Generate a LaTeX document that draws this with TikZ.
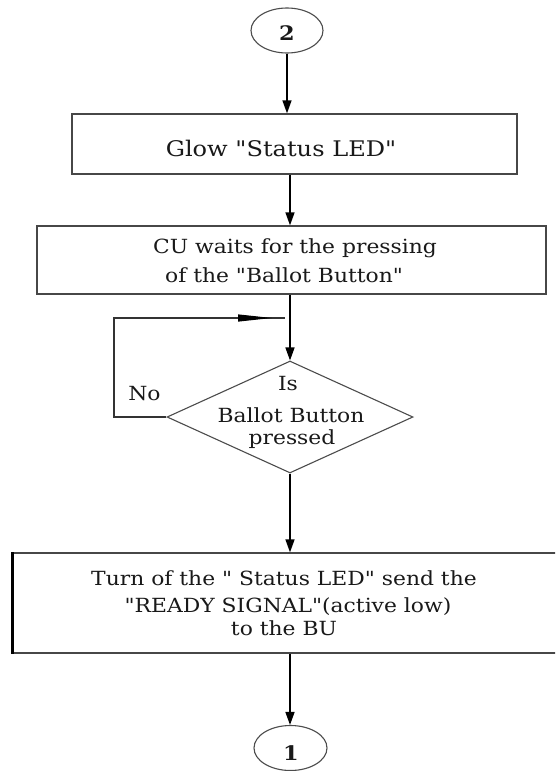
\documentclass[tikz,border=0pt]{standalone}
\usepackage{fontspec}
\setmainfont{DejaVu Serif}[FakeStretch=1.12,Ligatures=TeXOff]
\usetikzlibrary{shapes.geometric,arrows.meta}
\tikzset{
  boxline/.style={draw=black!72,line width=1.3pt},
  procbox/.style={boxline,rectangle,inner sep=0pt},
  ovalnode/.style={draw=black!70,line width=1.1pt,ellipse,inner sep=0pt},
  decbox/.style={draw=black!70,line width=1.1pt,diamond,inner sep=0pt,aspect=2.2},
  flow/.style={line width=1.5pt,-{Triangle[length=13pt,width=9pt]}},
  txt/.style={anchor=base,inner sep=0pt,text=black!90},
}
\newcommand{\fsA}{\fontsize{21.5}{26}\selectfont}
\newcommand{\fsB}{\fontsize{19.5}{24}\selectfont}
\newcommand{\fsC}{\fontsize{19.5}{24}\selectfont}
\begin{document}
\begin{tikzpicture}[x=1pt,y=-1pt]
\clip (0,0) rectangle (555,771);
\fill[white] (0,0) rectangle (555,771);
% terminals
\node[ovalnode,minimum width=72pt,minimum height=45pt] (c2) at (287,30.5) {};
\node[txt] (c2t) at (287,40) {\fontsize{20}{24}\selectfont\bfseries 2};
\node[ovalnode,minimum width=73pt,minimum height=45pt] (c1) at (290.5,748) {};
\node[txt] (c1t) at (291,760) {\fontsize{20}{24}\selectfont\bfseries 1};
% boxes
\node[procbox,minimum width=445pt,minimum height=60pt] (b1) at (294.5,144) {};
\node[txt] (b1t) at (281,156) {\fsA Glow "Status LED"};
\node[procbox,minimum width=509pt,minimum height=68pt] (b2) at (291.5,260) {};
\node[txt] (b2t1) at (295,253) {\fsB CU waits for the pressing};
\node[txt] (b2t2) at (284,282) {\fsB of the "Ballot Button"};
\node[decbox,minimum width=246pt,minimum height=112pt] (d) at (290,417) {};
\node[txt] (dt1) at (288,390) {\fsB Is};
\node[txt] (dt2) at (291,422) {\fsB Ballot Button};
\node[txt] (dt3) at (292,444) {\fsB pressed};
\node[txt] (no) at (144.5,400) {\fsB No};
\node[procbox,minimum width=557pt,minimum height=100pt] (b3) at (291.5,603) {};
\draw[black,line width=3pt] (b3.north west) -- (b3.south west);
\node[txt] (b3t1) at (284,585) {\fsC Turn of the " Status LED" send the};
\node[txt] (b3t2) at (288,612) {\fsC "READY SIGNAL"(active low)};
\node[txt] (b3t3) at (284,635) {\fsC to the BU};
% connectors
\draw[flow] (c2.south) -- (c2.south |- b1.north);
\draw[flow] (b1.south -| d.north) -- (b2.north -| d.north);
\draw[flow] (b2.south -| d.north) -- (d.north);
\draw[flow] (d.south) -- (d.south |- b3.north);
\draw[flow] (b3.south -| d.south) -- (d.south |- c1.north);
% no loop
\coordinate (lpA) at (114,417);
\coordinate (lpB) at (114,318);
\coordinate (lpC) at (285,318);
\coordinate (arA) at (238,318);
\coordinate (arB) at (272,318);
\draw[black!80,line width=1.1pt] (d.west) -- (lpA) -- (lpB) -- (lpC);
\draw[line width=1.1pt,-{Triangle[length=34pt,width=7pt]}] (arA) -- (arB);
\end{tikzpicture}
\end{document}
